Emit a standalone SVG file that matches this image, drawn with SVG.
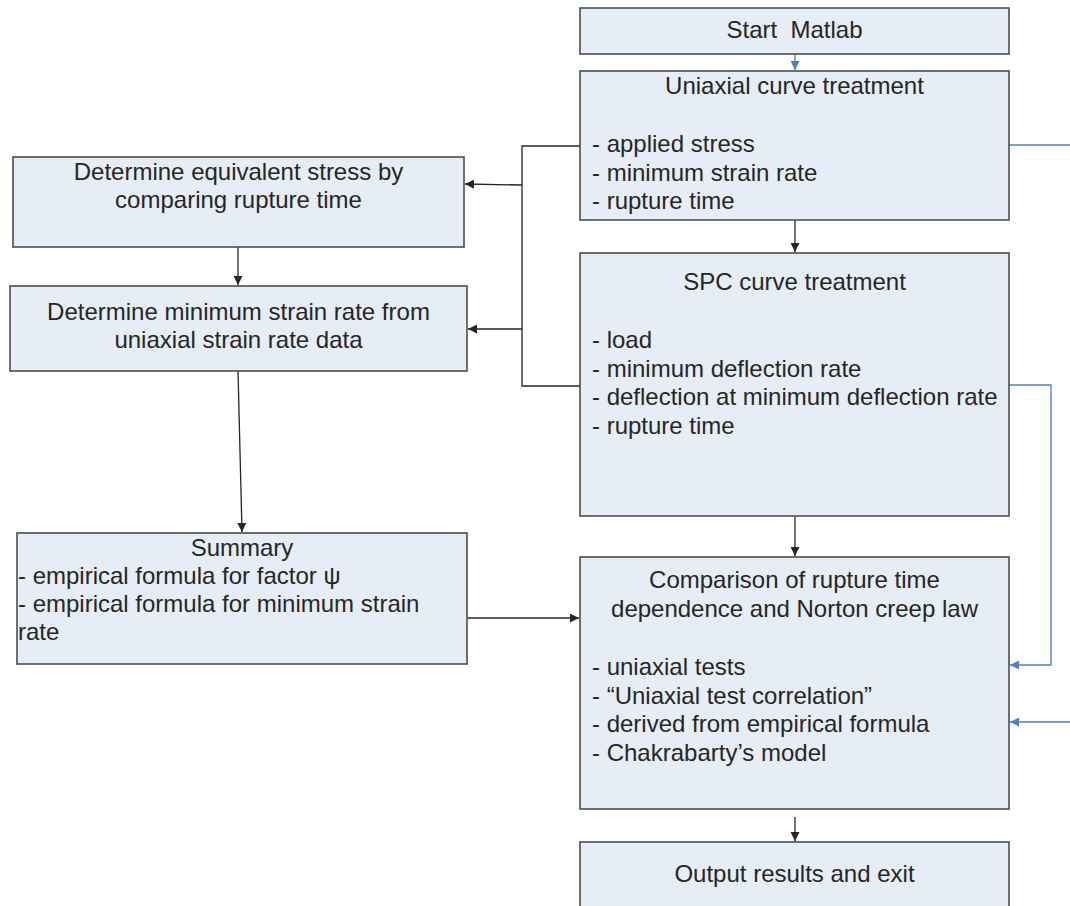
<svg xmlns="http://www.w3.org/2000/svg" width="1070" height="906" viewBox="0 0 1070 906">
<style>
.box{fill:#e7edf6;stroke:#4d4d4d;stroke-width:1.6}
text{font-family:"Liberation Sans",Arial,sans-serif;font-size:24px;fill:#262626}
.c{text-anchor:middle}
.k{fill:none;stroke:#262626;stroke-width:1.3}
.b{fill:none;stroke:#4f7fbf;stroke-width:1.3}
</style>
<defs>
<marker id="ak" viewBox="0 0 10 10" refX="10" refY="5" markerWidth="9" markerHeight="9" markerUnits="userSpaceOnUse" orient="auto"><path d="M0,0L10,5L0,10z" fill="#262626"/></marker>
<marker id="ab" viewBox="0 0 10 10" refX="10" refY="5" markerWidth="9" markerHeight="9" markerUnits="userSpaceOnUse" orient="auto"><path d="M0,0L10,5L0,10z" fill="#4f7fbf"/></marker>
</defs>
<rect width="1070" height="906" fill="#fff"/>
<g id="connectors">
<line class="b" x1="795" y1="54" x2="795" y2="70" marker-end="url(#ab)"/>
<line class="k" x1="795" y1="220" x2="795" y2="252" marker-end="url(#ak)"/>
<line class="k" x1="795" y1="517" x2="795" y2="556" marker-end="url(#ak)"/>
<line class="k" x1="795" y1="817" x2="795" y2="841" marker-end="url(#ak)"/>
<polyline class="k" points="580,146 522,146 522,386 580,386"/>
<line class="k" x1="522" y1="185" x2="465" y2="184" marker-end="url(#ak)"/>
<line class="k" x1="522" y1="329" x2="468" y2="329" marker-end="url(#ak)"/>
<line class="k" x1="238" y1="247" x2="238" y2="285" marker-end="url(#ak)"/>
<line class="k" x1="238" y1="371" x2="242" y2="532" marker-end="url(#ak)"/>
<line class="k" x1="460" y1="618" x2="579" y2="618" marker-end="url(#ak)"/>
<line class="b" x1="1009" y1="145" x2="1070" y2="145"/>
<polyline class="b" points="1009,385 1051,385 1051,665 1010,665" marker-end="url(#ab)"/>
<line class="b" x1="1070" y1="722" x2="1010" y2="722" marker-end="url(#ab)"/>
</g>
<g id="start">
<rect class="box" x="580" y="8" width="429" height="46"/>
<text class="c" x="794.5" y="38" xml:space="preserve">Start  Matlab</text>
</g>
<g id="uniaxial">
<rect class="box" x="580" y="71" width="429" height="149"/>
<text class="c" x="794.5" y="94">Uniaxial curve treatment</text>
<text x="592" y="152">- applied stress</text>
<text x="592" y="181">- minimum strain rate</text>
<text x="592" y="209">- rupture time</text>
</g>
<g id="spc">
<rect class="box" x="580" y="253" width="429" height="263"/>
<text class="c" x="794.5" y="290">SPC curve treatment</text>
<text x="592" y="348">- load</text>
<text x="592" y="377">- minimum deflection rate</text>
<text x="592" y="405">- deflection at minimum deflection rate</text>
<text x="592" y="434">- rupture time</text>
</g>
<g id="comparison">
<rect class="box" x="580" y="557" width="429" height="252"/>
<text class="c" x="794.5" y="588">Comparison of rupture time</text>
<text class="c" x="794.5" y="617">dependence and Norton creep law</text>
<text x="592" y="675">- uniaxial tests</text>
<text x="592" y="704">- “Uniaxial test correlation”</text>
<text x="592" y="732">- derived from empirical formula</text>
<text x="592" y="761">- Chakrabarty’s model</text>
</g>
<g id="output">
<rect class="box" x="580" y="842" width="429" height="80"/>
<text class="c" x="794.5" y="882">Output results and exit</text>
</g>
<g id="equivalent">
<rect class="box" x="13" y="157" width="451" height="90"/>
<text class="c" x="238.5" y="180">Determine equivalent stress by</text>
<text class="c" x="238.5" y="208">comparing rupture time</text>
</g>
<g id="minstrain">
<rect class="box" x="10" y="286" width="457" height="85"/>
<text class="c" x="238.5" y="320">Determine minimum strain rate from</text>
<text class="c" x="238.5" y="348">uniaxial strain rate data</text>
</g>
<g id="summary">
<rect class="box" x="17" y="533" width="450" height="131"/>
<text class="c" x="242" y="556">Summary</text>
<text x="18" y="584">- empirical formula for factor ψ</text>
<text x="18" y="612">- empirical formula for minimum strain</text>
<text x="18" y="640">rate</text>
</g>
</svg>
